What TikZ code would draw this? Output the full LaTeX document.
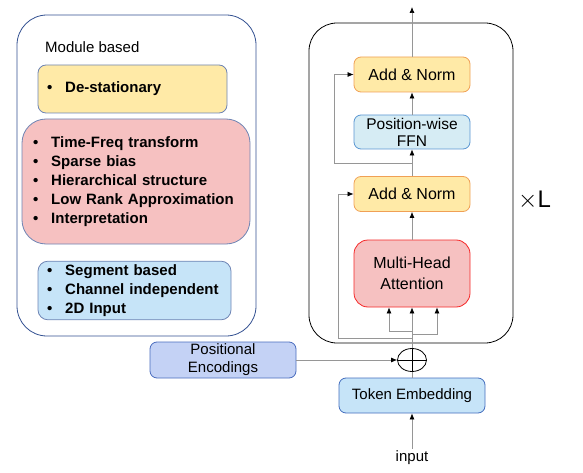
\documentclass[tikz,border=0pt]{standalone}
\usepackage{fontspec}
\setmainfont{Liberation Sans}
\usetikzlibrary{calc, positioning}
\usetikzlibrary{arrows.meta}
\usetikzlibrary{shapes.geometric}

\definecolor{normfill}{RGB}{255,234,167}
\definecolor{normdraw}{RGB}{240,160,85}
\definecolor{attnfill}{RGB}{246,193,193}
\definecolor{attndraw}{RGB}{245,40,40}
\definecolor{ffnfill}{RGB}{214,236,244}
\definecolor{ffndraw}{RGB}{90,150,210}
\definecolor{embfill}{RGB}{198,228,248}
\definecolor{embdraw}{RGB}{68,110,190}
\definecolor{pefill}{RGB}{196,210,245}
\definecolor{pedraw}{RGB}{74,108,190}
\definecolor{lbdraw}{RGB}{110,132,180}
\definecolor{outdraw}{RGB}{50,80,145}
\definecolor{linegray}{RGB}{150,150,150}

\tikzset{
  txt/.style={font=\fontsize{15}{19}\selectfont},
  blk/.style={draw, line width=0.8pt, rounded corners=7pt, minimum width=116pt, inner sep=2pt, align=center, txt},
  norm/.style={blk, fill=normfill, draw=normdraw, minimum height=35pt, font=\fontsize{16}{19}\selectfont},
  lbox/.style={draw=lbdraw, line width=0.8pt, align=left, txt, font=\fontsize{15}{19}\selectfont\bfseries},
  conn/.style={draw=linegray, line width=0.7pt},
  arr/.style={conn, -{Latex[length=6pt,width=5pt,black]}},
}

\begin{document}
\begin{tikzpicture}[x=1pt, y=-1pt]
    \def\bul{\textbullet\hspace{13pt}}
\useasboundingbox (0,0) rectangle (583,473);
% left panel
\node[draw=outdraw, line width=0.8pt, rounded corners=30pt, minimum width=239pt, minimum height=321pt] (left) at (136.5,175.5) {};
\node[anchor=west, txt, inner sep=0pt] (modlabel) at (45,47) {Module based};
\node[lbox, fill=normfill, rounded corners=8pt, text width=171pt, inner xsep=9pt, minimum height=48pt] (destat) at (132.5,89) {\bul De-stationary};
\node[lbox, fill=attnfill, rounded corners=24pt, text width=206pt, inner xsep=11pt, minimum height=125pt] (attnmod) at (136,181.5)
  {\bul Time-Freq transform\\ \bul Sparse bias\\ \bul Hierarchical structure\\ \bul Low Rank Approximation\\ \bul Interpretation};
\node[lbox, fill=embfill, rounded corners=10pt, text width=175pt, inner xsep=9pt, minimum height=57pt] (inmod) at (134.5,290.5)
  {\bul Segment based\\ \bul Channel independent\\ \bul 2D Input};
% encoder block
\node[draw, line width=0.8pt, rounded corners=28pt, minimum width=204pt, minimum height=320pt] (enc) at (411,183) {};
\node[norm] (an2) at (412,74.5) {Add \& Norm};
\node[blk, fill=ffnfill, draw=ffndraw, minimum height=34pt, font=\fontsize{15.5}{17}\selectfont] (ffn) at (412,132) {Position-wise\\FFN};
\node[norm] (an1) at (412,194) {Add \& Norm};
\node[blk, fill=attnfill, draw=attndraw, minimum height=67pt, rounded corners=14pt, font=\fontsize{16}{21}\selectfont] (mha) at (412,273.5) {Multi-Head\\Attention};
\node[anchor=west, inner sep=0pt, font=\fontsize{24}{24}\selectfont] (times) at (518,200) {$\times$L};
% input side
\node[draw, ellipse, line width=0.8pt, minimum width=29pt, minimum height=23pt, inner sep=0pt] (plus) at (412,360) {};
\draw[line width=0.8pt] (plus.north) -- (plus.south) (plus.west) -- (plus.east);
\node[blk, fill=embfill, draw=embdraw, minimum width=146pt, minimum height=35pt] (tok) at (412,395.5) {Token Embedding};
\node[blk, fill=pefill, draw=pedraw, minimum width=146pt, minimum height=36pt, font=\fontsize{15}{18}\selectfont] (pe) at (223,360) {Positional\\Encodings};
\node[txt, inner sep=2pt] (inp) at (412,458) {input};
\coordinate (out) at (412,7);
\coordinate (r1) at (412,338);
\coordinate (b1) at (412,331);
\coordinate (b2) at (412,334);
\coordinate (r2) at (412,163);
% connectors
\draw[arr] (inp) -- (tok);
\draw[conn] (tok) -- (plus);
\draw[arr] (pe) -- (plus);
\draw[arr] (plus.north) -- (mha.south);
\draw[arr] (r1) -- ++(-74,0) |- (an1.west);
\draw[arr] (b1) -| ($(mha.south)+(-23,0)$);
\draw[arr] (b2) -| ($(mha.south)+(25,0)$);
\draw[arr] (mha) -- (an1);
\draw[arr] (an1) -- (ffn);
\draw[arr] (r2) -- ++(-78,0) |- (an2.west);
\draw[arr] (ffn) -- (an2);
\draw[arr] (an2) -- (out);
\end{tikzpicture}
\end{document}
